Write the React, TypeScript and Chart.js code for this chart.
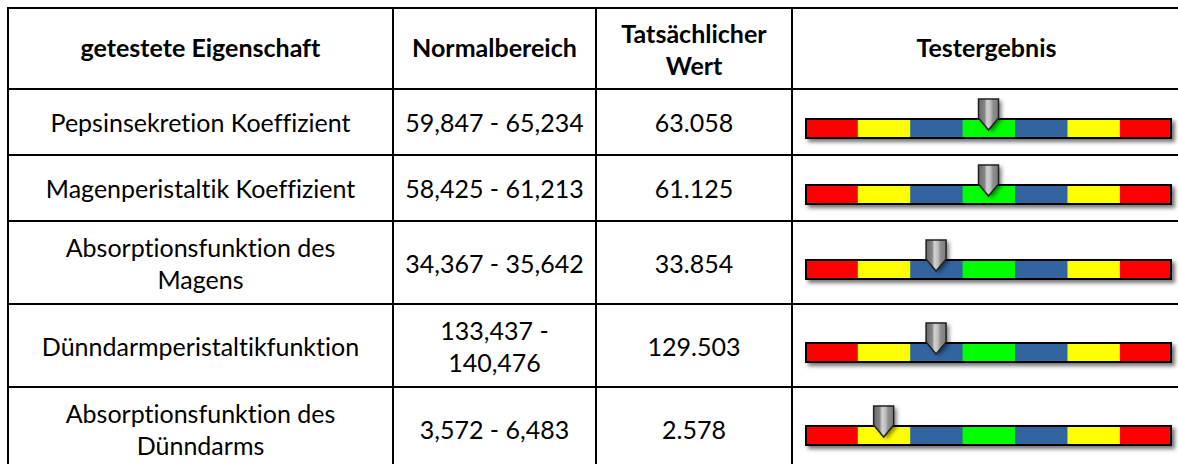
import React, { useEffect, useRef } from "react";
import { Chart, registerables } from "chart.js";

Chart.register(...registerables);

// ---------- data ----------
const headers = ["getestete Eigenschaft", "Normalbereich", "Tatsächlicher\nWert", "Testergebnis"];
const properties = [
  "Pepsinsekretion Koeffizient",
  "Magenperistaltik Koeffizient",
  "Absorptionsfunktion des\nMagens",
  "Dünndarmperistaltikfunktion",
  "Absorptionsfunktion des\nDünndarms",
];
const normalRanges = ["59,847 - 65,234", "58,425 - 61,213", "34,367 - 35,642", "133,437 -\n140,476", "3,572 - 6,483"];
const actualValues = ["63.058", "61.125", "33.854", "129.503", "2.578"];
const segmentColors = ["#FF0000", "#FFFF00", "#3265A0", "#00FF00", "#3265A0", "#FFFF00", "#FF0000"];
const segmentSizes = [1, 1, 1, 1, 1, 1, 1];
// pointer position on the gauge, in segment units (0 .. 7)
const markerPositions = [3.5, 3.5, 2.5, 2.5, 1.5];

// ---------- layout ----------
const COL_X = [8, 393, 596, 792, 1181];
const ROW_Y = [8, 89, 155, 221, 304, 387, 470];
const FONT = "Lato, 'Open Sans', sans-serif";
const FONT_SIZE = 25;
const LINE_H = 32;

const gaugePlugin = {
  id: "gauge",
  beforeDatasetsDraw(chart: any) {
    const { ctx, chartArea: a, scales } = chart;
    const total = segmentSizes.reduce((s, v) => s + v, 0);
    const x0 = scales.x.getPixelForValue(0);
    const x1 = scales.x.getPixelForValue(total);
    ctx.save();
    ctx.shadowColor = "rgba(0,0,0,0.55)";
    ctx.shadowBlur = 4;
    ctx.shadowOffsetX = 3;
    ctx.shadowOffsetY = 3;
    ctx.fillStyle = "#000";
    ctx.fillRect(x0, a.top, x1 - x0, a.bottom - a.top);
    ctx.restore();
  },
  afterDatasetsDraw(chart: any, _args: any, opts: any) {
    const { ctx, chartArea: a, scales } = chart;
    const total = segmentSizes.reduce((s, v) => s + v, 0);
    const x0 = scales.x.getPixelForValue(0);
    const x1 = scales.x.getPixelForValue(total);
    ctx.save();
    ctx.strokeStyle = "#000";
    ctx.lineWidth = 2;
    ctx.strokeRect(x0 + 1, a.top + 1, x1 - x0 - 2, a.bottom - a.top - 2);
    ctx.restore();

    const px = scales.x.getPixelForValue(opts.value);
    const bt = a.top;
    const hw = 10;
    const path = () => {
      ctx.beginPath();
      ctx.moveTo(px - hw, bt - 19);
      ctx.lineTo(px + hw, bt - 19);
      ctx.lineTo(px + hw, bt);
      ctx.lineTo(px, bt + 12);
      ctx.lineTo(px - hw, bt);
      ctx.closePath();
    };
    ctx.save();
    ctx.shadowColor = "rgba(0,0,0,0.5)";
    ctx.shadowBlur = 4;
    ctx.shadowOffsetX = 3;
    ctx.shadowOffsetY = 2;
    path();
    ctx.fillStyle = "#777";
    ctx.fill();
    ctx.restore();
    ctx.save();
    const g = ctx.createLinearGradient(px - hw, 0, px + hw, 0);
    g.addColorStop(0, "#6a6a6a");
    g.addColorStop(0.3, "#858585");
    g.addColorStop(0.42, "#d2d2d2");
    g.addColorStop(0.6, "#bdbdbd");
    g.addColorStop(0.72, "#8f8f8f");
    g.addColorStop(1, "#7c7c7c");
    path();
    ctx.fillStyle = g;
    ctx.fill();
    ctx.lineWidth = 1.5;
    ctx.strokeStyle = "#222";
    ctx.lineJoin = "miter";
    ctx.stroke();
    ctx.restore();
  },
};

function Gauge({ index, top }: { index: number; top: number }) {
  const ref = useRef<HTMLCanvasElement>(null);
  useEffect(() => {
    if (!ref.current) return;
    const chart = new Chart(ref.current, {
      type: "bar",
      data: {
        labels: [properties[index]],
        datasets: segmentSizes.map((v, k) => ({
          data: [v],
          backgroundColor: segmentColors[k],
          borderWidth: 0,
          categoryPercentage: 1,
          barPercentage: 1,
        })),
      },
      options: {
        indexAxis: "y",
        responsive: false,
        animation: false,
        events: [],
        layout: { padding: { left: 12, right: 6, top: 25, bottom: 24 } },
        scales: {
          x: { stacked: true, min: 0, max: 7, display: false },
          y: { stacked: true, display: false },
        },
        plugins: {
          legend: { display: false },
          tooltip: { enabled: false },
          gauge: { value: markerPositions[index] },
        } as any,
      },
      plugins: [gaugePlugin],
    });
    return () => chart.destroy();
  }, [index]);
  return (
    <canvas
      ref={ref}
      width={385}
      height={70}
      style={{ position: "absolute", left: 793, top, width: 385, height: 70 }}
    />
  );
}

function Cell({ text, col, row, bold }: { text: string; col: number; row: number; bold?: boolean }) {
  const lines = text.split("\n").length;
  const offset = bold ? (lines > 1 ? 0 : -1.5) : lines > 1 ? 0 : 0.3;
  return (
    <div
      style={{
        position: "absolute",
        left: COL_X[col],
        width: COL_X[col + 1] - COL_X[col],
        top: ROW_Y[row] + offset,
        height: ROW_Y[row + 1] - ROW_Y[row],
        display: "flex",
        alignItems: "center",
        justifyContent: "center",
        textAlign: "center",
        whiteSpace: "pre-line",
        fontFamily: FONT,
        fontSize: FONT_SIZE,
        lineHeight: LINE_H + "px",
        fontWeight: bold ? 700 : 400,
        fontVariantLigatures: "none",
        color: "#000",
      }}
    >
      {text}
    </div>
  );
}

export default function App() {
  const cells: React.ReactNode[] = [];
  headers.forEach((h, j) => {
    if (j < 3) cells.push(<Cell key={"h" + j} text={h} col={j} row={0} bold />);
  });
  properties.forEach((p, i) => {
    cells.push(<Cell key={"p" + i} text={p} col={0} row={i + 1} />);
    cells.push(<Cell key={"n" + i} text={normalRanges[i]} col={1} row={i + 1} />);
    cells.push(<Cell key={"v" + i} text={actualValues[i]} col={2} row={i + 1} />);
  });
  const lines: React.ReactNode[] = [];
  ROW_Y.forEach((y, i) =>
    lines.push(
      <div key={"hl" + i} style={{ position: "absolute", left: 7, top: y - 1, width: 1200, height: 2, background: "#000" }} />
    )
  );
  COL_X.forEach((x, i) =>
    lines.push(
      <div key={"vl" + i} style={{ position: "absolute", left: x - 1, top: 7, width: 2, height: 470, background: "#000" }} />
    )
  );
  return (
    <div
      style={{
        position: "absolute",
        left: 0,
        top: 0,
        width: 1178,
        height: 464,
        overflow: "hidden",
        background: "#fff",
      }}
    >
      {lines}
      {cells}
      <Cell text={headers[3]} col={3} row={0} bold />
      {properties.map((_, i) => {
        const rowCenter = (ROW_Y[i + 1] + ROW_Y[i + 2]) / 2;
        const barTop = Math.round(rowCenter - 4);
        return <Gauge key={"g" + i} index={i} top={barTop - 25} />;
      })}
    </div>
  );
}
